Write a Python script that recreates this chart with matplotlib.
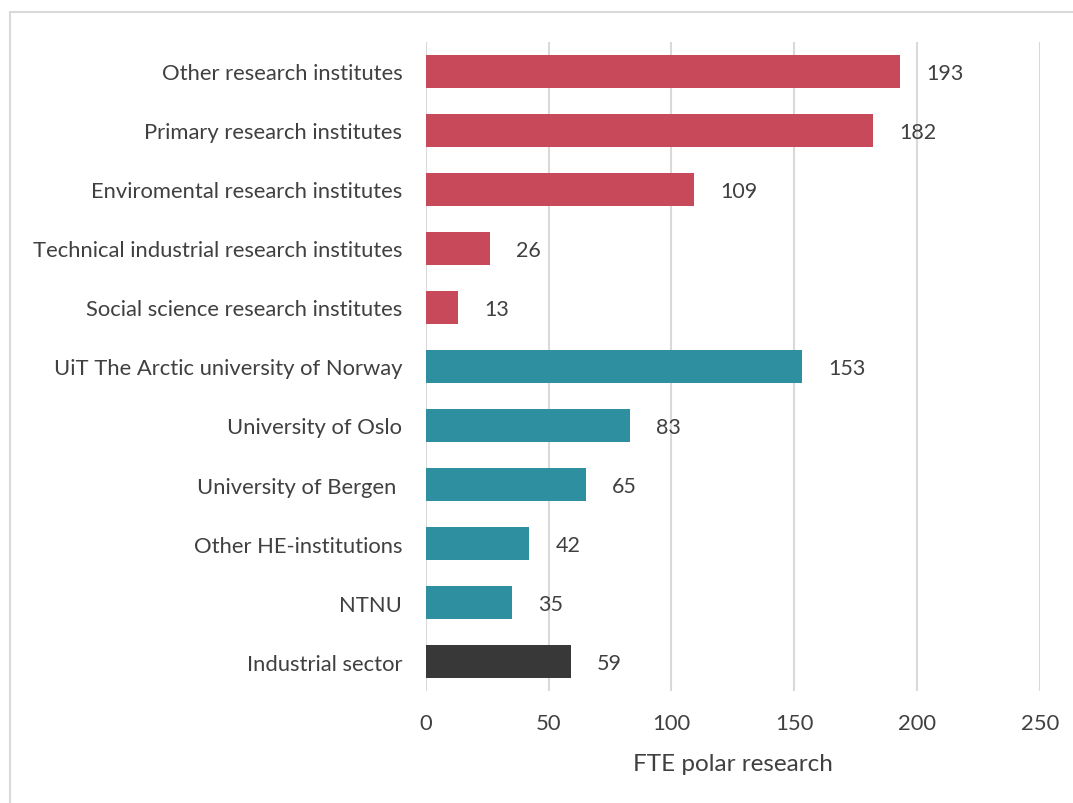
import matplotlib.pyplot as plt
from matplotlib.patches import Rectangle

categories = [
    "Other research institutes",
    "Primary research institutes",
    "Enviromental research institutes",
    "Technical industrial research institutes",
    "Social science research institutes",
    "UiT The Arctic university of Norway",
    "University of Oslo",
    "University of Bergen ",
    "Other HE-institutions",
    "NTNU",
    "Industrial sector",
]
values = [193, 182, 109, 26, 13, 153, 83, 65, 42, 35, 59]
groups = ["inst"] * 5 + ["uni"] * 5 + ["ind"]
group_colors = {"inst": "#C84A5A", "uni": "#2E8FA0", "ind": "#383838"}
x_ticks = [0, 50, 100, 150, 200, 250]

text_color = "#404040"
plt.rcParams["font.family"] = ["Lato", "DejaVu Sans"]

fig = plt.figure(figsize=(10.73, 8.04), dpi=100)
ax = fig.add_axes([0.397, 0.139, 0.572, 0.808])

ypos = list(range(len(categories)))
colors = [group_colors[g] for g in groups]
ax.barh(ypos, values, height=0.56, color=colors, zorder=3)

for y, v in zip(ypos, values):
    ax.annotate(str(v), xy=(v, y), xytext=(19, -1), textcoords="offset points",
                ha="left", va="center", fontsize=15.5, color=text_color)

ax.set_ylim(len(categories) - 0.5, -0.5)
ax.set_xlim(0, 250)
ax.set_yticks(ypos)
ax.set_yticklabels(categories, fontsize=15.8, color=text_color)
ax.set_xticks(x_ticks)
ax.set_xticklabels([str(t) for t in x_ticks], fontsize=15.8, color=text_color)
ax.tick_params(axis="both", length=0)
ax.tick_params(axis="x", pad=16)
ax.tick_params(axis="y", pad=17)
ax.grid(axis="x", color="#D9D9D9", linewidth=1.5, zorder=0)
for s in ax.spines.values():
    s.set_visible(False)
ax.set_xlabel("FTE polar research", fontsize=17.5, color=text_color, labelpad=14)

# outer chart frame
fig.patches.append(Rectangle((0.0095, -0.01), 1.0, 1 - 13 / 804 + 0.01,
                             transform=fig.transFigure, fill=False,
                             edgecolor="#D9D9D9", linewidth=1.5))

fig.savefig("out.png", dpi=100)
